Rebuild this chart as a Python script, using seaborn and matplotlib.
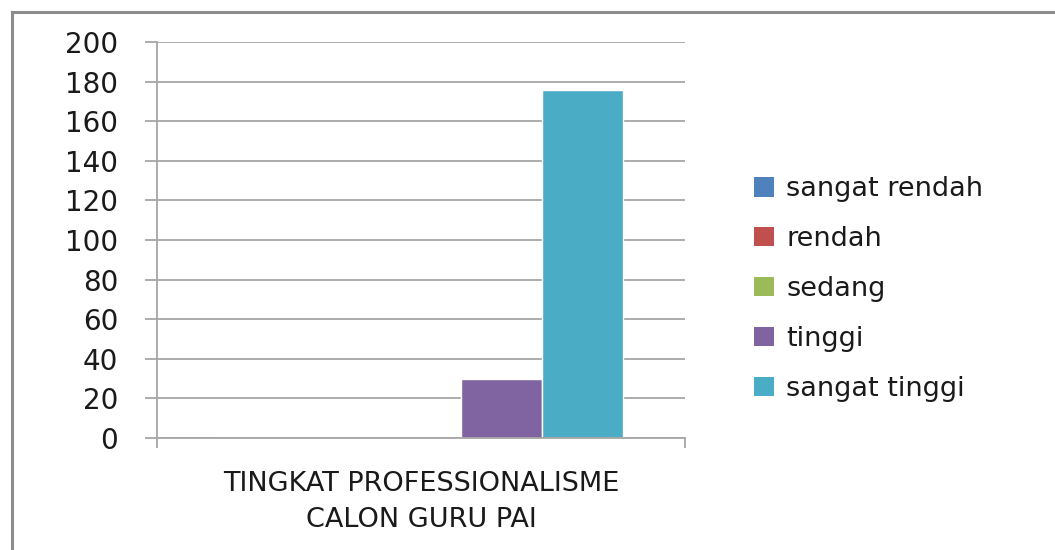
import pandas as pd
import seaborn as sns
import matplotlib.pyplot as plt
from matplotlib.patches import Patch, Rectangle

# data
category = ["TINGKAT PROFESSIONALISME\nCALON GURU PAI"]
levels = ["sangat rendah", "rendah", "sedang", "tinggi", "sangat tinggi"]
counts = [0, 0, 0, 30, 176]
colors = ["#4f81bd", "#c0504d", "#9bbb59", "#8064a2", "#4bacc6"]
yticks = [0, 20, 40, 60, 80, 100, 120, 140, 160, 180, 200]

df = pd.DataFrame({
    "kategori": category * len(levels),
    "tingkat": levels,
    "jumlah": counts,
})

sns.set_style("white")
plt.rcParams['font.family'] = ['DejaVu Sans']

fig = plt.figure(figsize=(10.55, 5.5), dpi=100)
ax = fig.add_axes([157 / 1055, 1 - 438 / 550, (685 - 157) / 1055, (438 - 42) / 550])

sns.barplot(data=df, x="kategori", y="jumlah", hue="tingkat", hue_order=levels,
            palette=colors, width=0.765, saturation=1, ax=ax, legend=False)

ax.set_xlim(-0.5, 0.5)
ax.set_ylim(0, 200)
ax.set_yticks(yticks)
ax.set_xlabel("")
ax.set_ylabel("")

grid_c = "#a6a6a6"
ax.yaxis.grid(True, color=grid_c, linewidth=1.3)
ax.set_axisbelow(True)
for side in ["top", "right"]:
    ax.spines[side].set_visible(False)
for side in ["left", "bottom"]:
    ax.spines[side].set_color(grid_c)
    ax.spines[side].set_linewidth(1.3)

ax.tick_params(axis="y", which="major", length=9, width=1.3, color=grid_c,
               labelsize=20, pad=19, labelcolor="#1a1a1a", left=True, direction="out")
ax.tick_params(axis="x", which="major", length=0, labelsize=19.5, pad=24, labelcolor="#1a1a1a")
for lab in ax.get_xticklabels():
    lab.set_linespacing(1.5)
ax.set_xticks([-0.5, 0.5], minor=True)
ax.tick_params(axis="x", which="minor", length=7, width=1.3, color=grid_c, bottom=True)

handles = [Patch(facecolor=c, edgecolor="none") for c in colors]
fig.legend(handles, levels, loc="upper left", bbox_to_anchor=(730 / 1055, 1 - 152 / 550),
           frameon=False, fontsize=19.5, handlelength=0.72, handleheight=0.72,
           handletextpad=0.45, labelspacing=0.88, labelcolor="#1a1a1a")

# outer chart border
fig.add_artist(Rectangle((12 / 1055, -0.1), 1.2, 1.1 - 12 / 550, transform=fig.transFigure,
                         fill=False, edgecolor="#8c8c8c", linewidth=2.2))

fig.savefig("out.png", dpi=100)
